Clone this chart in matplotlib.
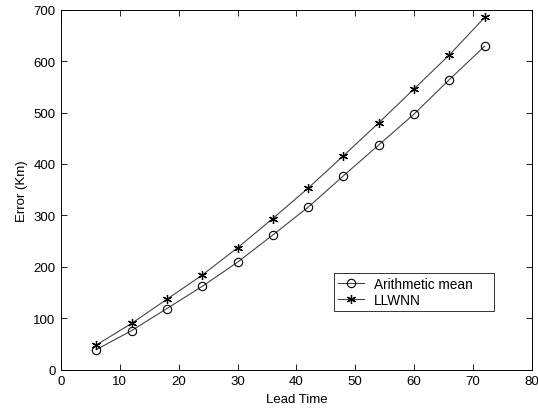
import matplotlib
matplotlib.use("Agg")
import matplotlib.pyplot as plt

plt.rcParams['font.family'] = ['Liberation Sans', 'DejaVu Sans']

lead_time = [6, 12, 18, 24, 30, 36, 42, 48, 54, 60, 66, 72]
arith_mean = [39, 76, 119, 162, 209, 262, 316, 377, 437, 497, 564, 629]
llwnn = [48, 90, 137, 184, 237, 294, 353, 416, 480, 546, 612, 685]

fig = plt.figure(figsize=(5.38, 4.14), dpi=100)
ax = fig.add_axes([61/538, 1 - 370.7/414, (531.7-61)/538, (370.7-10.7)/414])

ax.plot(lead_time, arith_mean, color='#444444', lw=0.8, marker='o', ms=6,
        mfc='none', mec='black', mew=0.8, label='Arithmetic mean')
ax.plot(lead_time, llwnn, color='#444444', lw=0.8, marker=(6, 2, 0), ms=6.5,
        mec='black', mew=0.9, label='LLWNN')

ax.set_xlim(0, 80)
ax.set_ylim(0, 700)
ax.set_xticks(range(0, 81, 10))
ax.set_yticks(range(0, 701, 100))
ax.tick_params(direction='in', top=True, right=True, labelsize=9.5, length=4, width=0.6, pad=4)
for s in ax.spines.values():
    s.set_linewidth(0.7)
ax.set_xlabel('Lead Time', fontsize=9.5, labelpad=4)
ax.set_ylabel('Error (Km)', fontsize=9.5, labelpad=4)

x0 = (334.3 - 61) / 470.7
x1 = (494 - 61) / 470.7
y1 = (370.7 - 274) / 360
y0 = (370.7 - 312.7) / 360
leg = ax.legend(loc='upper left', bbox_to_anchor=(x0, y0, x1 - x0, y1 - y0),
                mode='expand',
                fontsize=9.8, frameon=True, fancybox=False, edgecolor='black',
                handlelength=1.9, handletextpad=0.7, borderpad=0.3, labelspacing=0.15,
                borderaxespad=0)
leg.get_frame().set_linewidth(0.7)

fig.savefig('out.png', dpi=100)
